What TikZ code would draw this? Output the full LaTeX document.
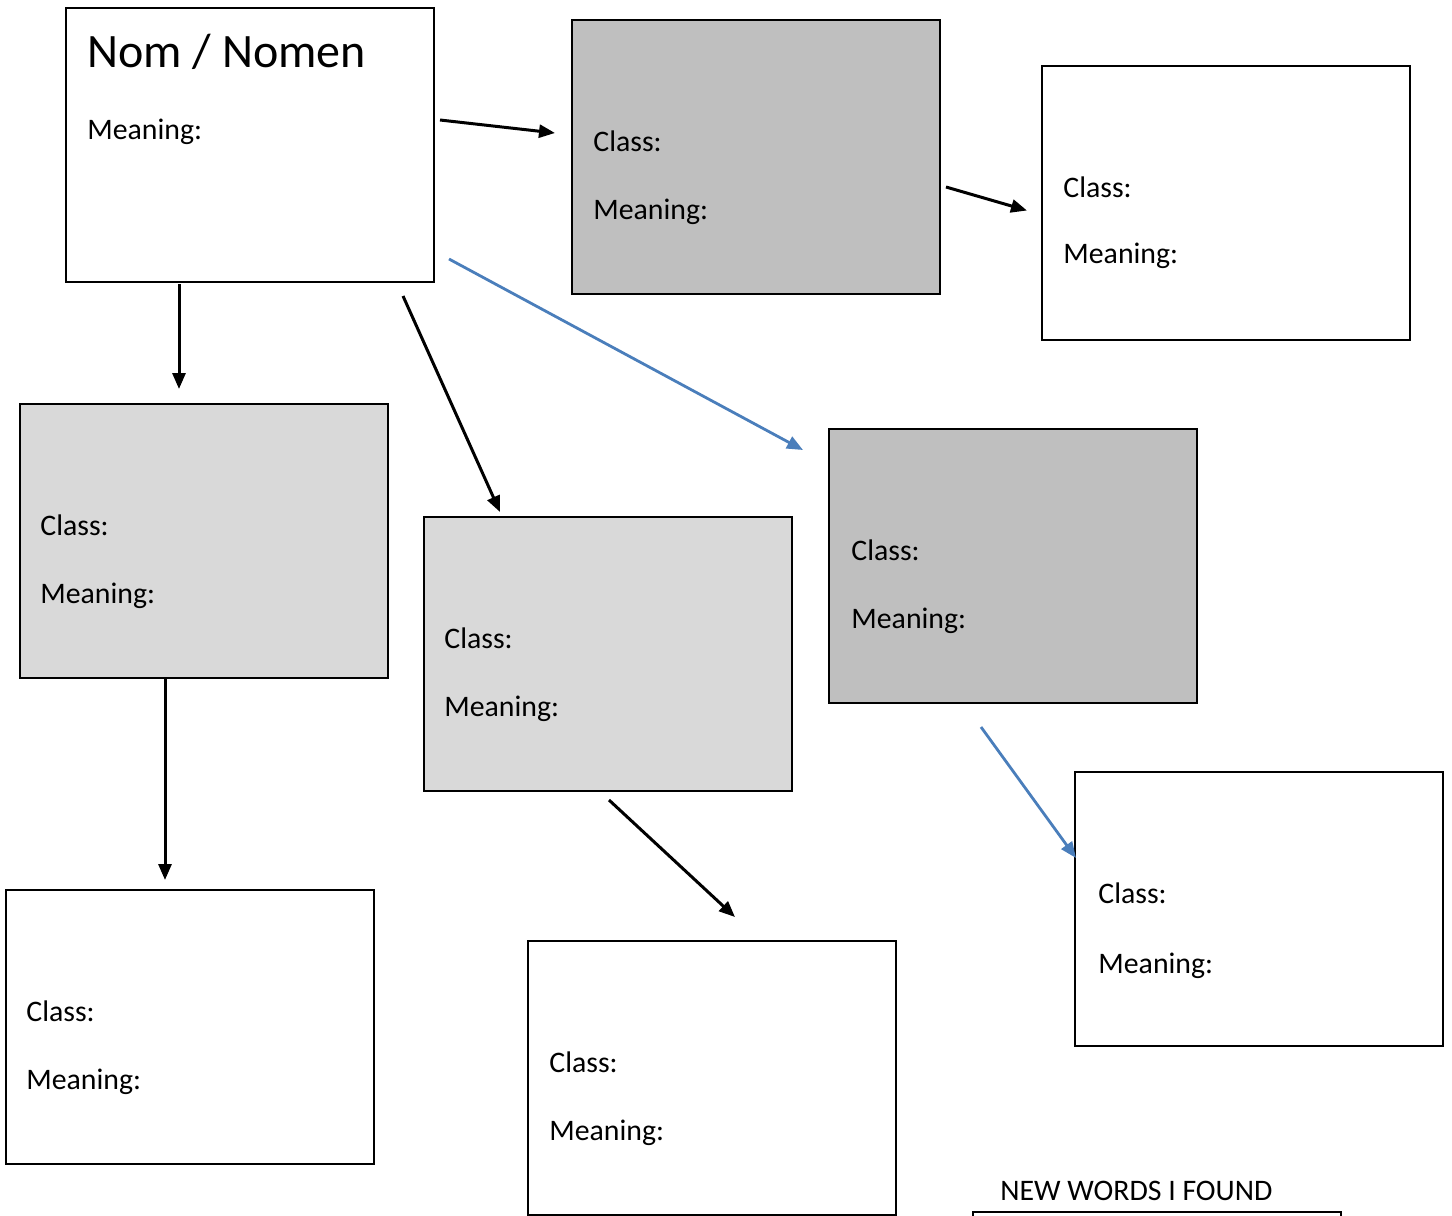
\documentclass[tikz,border=0pt]{standalone}
\usepackage{fontspec}
\setmainfont{Carlito}
\usepackage{tikz}
\usetikzlibrary{arrows.meta, positioning}
\usepackage{xcolor}
\definecolor{darkbox}{HTML}{BFBFBF}
\definecolor{lightbox}{HTML}{D9D9D9}
\definecolor{linkblue}{HTML}{4A7EBB}
\tikzset{
    wordbox/.style={rectangle, draw=black, line width=1pt, fill=white, minimum width=184pt, minimum height=137pt, anchor=north west, inner sep=0pt, outer sep=0pt},
    entry/.style={anchor=base west, inner sep=0pt, font=\fontsize{14.9}{17}\selectfont},
    title/.style={anchor=base west, inner sep=0pt, font=\fontsize{24}{29}\selectfont},
    arrow/.style={line width=1.5pt, -{Triangle[length=8pt, width=6.5pt]}},
    bluearrow/.style={arrow, draw=linkblue, fill=linkblue, line width=1.4pt}
}

\begin{document}
\begin{tikzpicture}[x=0.5pt, y=-0.5pt]
    \useasboundingbox (0,0) rectangle (1452,1216);
    \clip (0,0) rectangle (1452,1216);

    % Word boxes
    \node (nom) [wordbox] at (66,8) {};
    \node (topmid) [wordbox, fill=darkbox] at (572,20) {};
    \node (topright) [wordbox] at (1042,66) {};
    \node (leftmid) [wordbox, fill=lightbox] at (20,404) {};
    \node (mid) [wordbox, fill=lightbox] at (424,517) {};
    \node (rightmid) [wordbox, fill=darkbox] at (829,429) {};
    \node (botleft) [wordbox] at (6,890) {};
    \node (botmid) [wordbox] at (528,941) {};
    \node (botright) [wordbox] at (1075,772) {};
    \node (words) [wordbox] at (973,1212) {};

    % Texts
    \node (nomT) [title] at ([shift={(21,59)}]nom.north west) {Nom / Nomen};
    \node (nomM) [entry] at ([shift={(21,131)}]nom.north west) {Meaning:};
    \node (topmidC) [entry] at ([shift={(21,131)}]topmid.north west) {Class:};
    \node (topmidM) [entry] at ([shift={(21,199)}]topmid.north west) {Meaning:};
    \node (toprightC) [entry] at ([shift={(21,131)}]topright.north west) {Class:};
    \node (toprightM) [entry] at ([shift={(21,197)}]topright.north west) {Meaning:};
    \node (leftmidC) [entry] at ([shift={(20,131)}]leftmid.north west) {Class:};
    \node (leftmidM) [entry] at ([shift={(20,199)}]leftmid.north west) {Meaning:};
    \node (midC) [entry] at ([shift={(20,131)}]mid.north west) {Class:};
    \node (midM) [entry] at ([shift={(20,199)}]mid.north west) {Meaning:};
    \node (rightmidC) [entry] at ([shift={(22,131)}]rightmid.north west) {Class:};
    \node (rightmidM) [entry] at ([shift={(22,199)}]rightmid.north west) {Meaning:};
    \node (botleftC) [entry] at ([shift={(20,131)}]botleft.north west) {Class:};
    \node (botleftM) [entry] at ([shift={(20,199)}]botleft.north west) {Meaning:};
    \node (botmidC) [entry] at ([shift={(21,131)}]botmid.north west) {Class:};
    \node (botmidM) [entry] at ([shift={(21,199)}]botmid.north west) {Meaning:};
    \node (botrightC) [entry] at ([shift={(23,131)}]botright.north west) {Class:};
    \node (botrightM) [entry] at ([shift={(23,201)}]botright.north west) {Meaning:};
    \node (wordsT) [entry] at ([shift={(27,-12)}]words.north west) {NEW WORDS I FOUND};

    % Arrows
    \draw [arrow] ([shift={(6,-25)}]nom.east) -- ([shift={(-17,-24)}]topmid.west);
    \draw [arrow] ([shift={(6,30)}]topmid.east) -- ([shift={(-15,7.5)}]topright.west);
    \draw [arrow] ([shift={(-71,2)}]nom.south) -- ([shift={(-25,-15)}]leftmid.north);
    \draw [arrow] ([shift={(-31,14)}]nom.south east) -- ([shift={(76,-5)}]mid.north west);
    \draw [bluearrow] ([shift={(15,114)}]nom.east) -- ([shift={(-26,21)}]rightmid.north west);
    \draw [arrow] ([shift={(-39,1)}]leftmid.south) -- ([shift={(-25,-10)}]botleft.north);
    \draw [arrow] ([shift={(1,9)}]mid.south) -- ([shift={(23,-24)}]botmid.north);
    \draw [bluearrow] ([shift={(-32,24)}]rightmid.south) -- ([shift={(1,-51)}]botright.west);
\end{tikzpicture}
\end{document}
